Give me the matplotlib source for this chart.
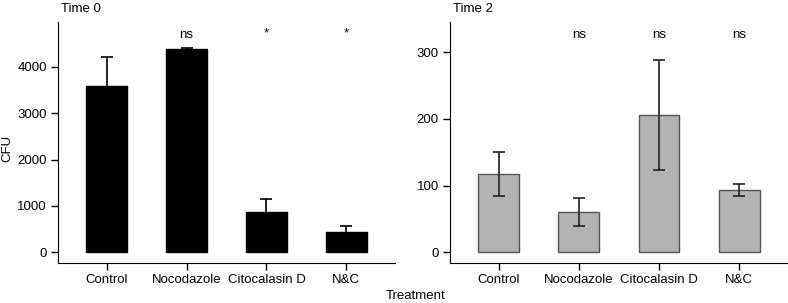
import numpy as np
import matplotlib.pyplot as plt

plt.rcParams['font.family'] = ['Liberation Sans', 'DejaVu Sans']

# Dados
tratamentos = ['Control', 'Nocodazole', 'Citocalasin D', 'N&C']
cfu_t0 = [3590, 4380, 875, 445]
erro_t0 = [625, 30, 275, 130]
sig_t0 = ['', 'ns', '*', '*']
cfu_t2 = [117, 60, 206, 93]
erro_t2 = [33, 21, 82, 9]
sig_t2 = ['', 'ns', 'ns', 'ns']

fs = 9.5

fig = plt.figure(figsize=(7.88, 3.03), dpi=100)
ax1 = fig.add_axes([0.0736, 0.132, 0.4277, 0.795])
ax2 = fig.add_axes([0.571, 0.132, 0.429, 0.795])

def painel(ax, valores, erros, sig, cor, borda, cor_erro, titulo, ylim, ticks, y_sig, so_cima):
    x = np.arange(len(tratamentos))
    ax.bar(x, valores, width=0.51, color=cor, edgecolor=borda, linewidth=1.0, zorder=2)
    if so_cima:
        yerr = [np.zeros(len(erros)), erros]
    else:
        yerr = erros
    eb = ax.errorbar(x, valores, yerr=yerr, fmt='none', ecolor=cor_erro, elinewidth=1.2,
                     capsize=4.5, capthick=1.2, zorder=3)
    if so_cima:
        # esconde o traco de baixo (fica em cima da barra)
        eb[1][0].set_visible(False)
    for xi, s in zip(x, sig):
        if s == '*':
            ax.text(xi, y_sig * 1.01, s, ha='center', va='center', fontsize=fs)
        elif s:
            ax.text(xi, y_sig, s, ha='center', va='center', fontsize=fs)
    ax.set_xlim(-0.61, 3.61)
    ax.set_ylim(*ylim)
    ax.set_yticks(ticks)
    ax.set_xticks(x)
    ax.set_xticklabels(tratamentos)
    ax.spines['top'].set_visible(False)
    ax.spines['right'].set_visible(False)
    ax.tick_params(labelsize=fs, length=5, width=1, direction='out', pad=3)
    ax.text(0.008, 1.03, titulo, transform=ax.transAxes, ha='left', va='bottom', fontsize=fs)

painel(ax1, cfu_t0, erro_t0, sig_t0, 'black', 'black', 'black', 'Time 0', (-230, 4960),
       [0, 1000, 2000, 3000, 4000], 4680, True)
painel(ax2, cfu_t2, erro_t2, sig_t2, '#b3b3b3', '#555555', '#222222', 'Time 2', (-16, 345),
       [0, 100, 200, 300], 325, False)

fig.text(0.009, 0.51, 'CFU', rotation=90, ha='center', va='center', fontsize=fs)
fig.text(0.528, 0.022, 'Treatment', ha='center', va='center', fontsize=fs)

fig.savefig('out.png', dpi=100)
